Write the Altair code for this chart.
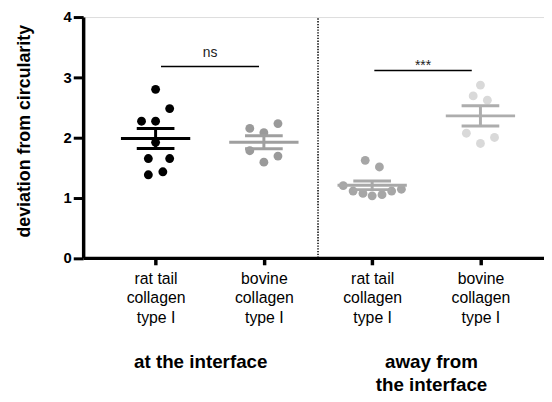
import json
import altair as alt
import pandas as pd

# ---------------- data ----------------
group_ids = [1, 2, 3, 4]
x_labels = [
    ["rat tail", "collagen", "type I"],
    ["bovine", "collagen", "type I"],
    ["rat tail", "collagen", "type I"],
    ["bovine", "collagen", "type I"],
]
g1_values = [2.80, 2.48, 2.27, 2.27, 1.92, 1.65, 1.65, 1.38, 1.43]
g1_jitter = [0.0, 0.13, -0.13, 0.0, 0.0, -0.067, 0.13, -0.067, 0.067]
g2_values = [2.15, 2.08, 2.23, 1.78, 1.69, 1.59]
g2_jitter = [-0.13, 0.0, 0.13, -0.13, 0.13, 0.0]
g3_values = [1.62, 1.51, 1.20, 1.11, 1.07, 1.03, 1.05, 1.11, 1.14]
g3_jitter = [-0.064, 0.067, -0.267, -0.176, -0.085, 0.0, 0.091, 0.18, 0.27]
g4_values = [2.87, 2.69, 2.62, 2.07, 2.00, 1.90]
g4_jitter = [0.0, -0.067, 0.064, -0.13, 0.13, 0.0]

point_colors = ["#000000", "#9a9a9a", "#a6a6a6", "#d9d9d9"]
line_colors = ["#000000", "#9f9f9f", "#a8a8a8", "#adadad"]

sig_x1 = [1.05, 3.02]
sig_x2 = [1.955, 3.92]
sig_y = [3.177, 3.112]
sig_labels = ["ns", "***"]

group_titles = ["at the interface", "away from\nthe interface"]
group_title_x = [1.417, 3.548]

separator_x = [2.5]

FONT = "Liberation Sans"

# ---------------- tables ----------------
rows = []
for gid, vals, jit in zip(group_ids,
                          [g1_values, g2_values, g3_values, g4_values],
                          [g1_jitter, g2_jitter, g3_jitter, g4_jitter]):
    for v, j in zip(vals, jit):
        rows.append({"group": gid, "g": f"g{gid}", "value": v, "jitter": j})
pts = pd.DataFrame(rows)

sig_df = pd.DataFrame({"x1": sig_x1, "x2": sig_x2, "y": sig_y, "label": sig_labels})
title_df = pd.DataFrame({"x": group_title_x, "label": group_titles})
sep_df = pd.DataFrame({"x": separator_x, "y1": [0], "y2": [4]})

label_expr = json.dumps(x_labels) + "[datum.value - 1]"

x_scale = alt.Scale(domain=[0.331, 4.587], nice=False, zero=False)
y_scale = alt.Scale(domain=[0, 4], nice=False, zero=False)

x_axis = alt.Axis(
    values=[1, 2, 3, 4], labelExpr=label_expr, title=None, grid=False,
    domainColor="black", domainWidth=3.5, tickColor="black", tickWidth=3.5,
    tickSize=7, labelFont=FONT, labelFontSize=16, labelColor="black",
    labelLineHeight=19.5, labelPadding=6, labelBaseline="top", labelAngle=0,
)
y_axis = alt.Axis(
    values=[0, 1, 2, 3, 4], grid=False, title="deviation from circularity",
    domainColor="black", domainWidth=3.5, tickColor="black", tickWidth=3,
    tickSize=10, labelFont=FONT, labelFontSize=15, labelFontWeight="bold",
    labelColor="black", labelPadding=2, titleFont=FONT, titleFontSize=18,
    titleFontWeight="bold", titleColor="black", titleX=-54, titleY=115,
    titleAngle=270, titleAlign="center", titleBaseline="alphabetic",
)


def X(field, **kw):
    return alt.X(field, type="quantitative", scale=x_scale, axis=x_axis, **kw)


def Y(field, **kw):
    return alt.Y(field, type="quantitative", scale=y_scale, axis=y_axis, **kw)


pcolor = alt.Color("g:N", scale=alt.Scale(domain=["g1", "g2", "g3", "g4"], range=point_colors), legend=None)
lcolor = alt.Color("g:N", scale=alt.Scale(domain=["g1", "g2", "g3", "g4"], range=line_colors), legend=None)

base = alt.Chart(pts)

points = base.transform_calculate(xj="datum.group + datum.jitter").mark_circle(
    size=80, opacity=1
).encode(x=X("xj"), y=Y("value"), fill=pcolor)

stats = base.transform_aggregate(
    mean="mean(value)", sem="stderr(value)", groupby=["group", "g"]
).transform_calculate(
    lo="datum.mean - datum.sem", hi="datum.mean + datum.sem",
    mx1="datum.group - 0.32", mx2="datum.group + 0.32",
    cx1="datum.group - 0.174", cx2="datum.group + 0.174",
)

mean_line = stats.mark_rule(strokeWidth=3).encode(x=X("mx1"), x2="mx2:Q", y=Y("mean"), color=lcolor)
cap_hi = stats.mark_rule(strokeWidth=3).encode(x=X("cx1"), x2="cx2:Q", y=Y("hi"), color=lcolor)
cap_lo = stats.mark_rule(strokeWidth=3).encode(x=X("cx1"), x2="cx2:Q", y=Y("lo"), color=lcolor)
vbar = stats.mark_rule(strokeWidth=3).encode(x=X("group"), y=Y("lo"), y2="hi:Q", color=lcolor)

sep = alt.Chart(sep_df).mark_rule(color="black", strokeWidth=1.5, strokeDash=[1.4, 1.4]).encode(
    x=X("x"), y=Y("y1"), y2="y2:Q"
)

sig_lines = alt.Chart(sig_df).mark_rule(color="black", strokeWidth=1.5).encode(
    x=X("x1"), x2="x2:Q", y=Y("y")
)
sig_ns = alt.Chart(sig_df).transform_filter("datum.label == 'ns'").transform_calculate(
    xm="(datum.x1 + datum.x2) / 2"
).mark_text(font=FONT, fontSize=14, color="#222222", baseline="alphabetic", dy=-10).encode(
    x=X("xm"), y=Y("y"), text="label:N"
)
sig_star = alt.Chart(sig_df).transform_filter("datum.label != 'ns'").transform_calculate(
    xm="(datum.x1 + datum.x2) / 2"
).mark_text(font=FONT, fontSize=14, color="#222222", baseline="alphabetic", dy=-1).encode(
    x=X("xm"), y=Y("y"), text="label:N"
)

titles = alt.Chart(title_df).mark_text(
    font=FONT, fontSize=19, fontWeight="bold", color="black", baseline="top",
    lineBreak="\n", lineHeight=23, align="center",
).encode(x=X("x"), y=alt.value(340), text="label:N")

chart = alt.layer(
    sep, sig_lines, sig_ns, sig_star, points, mean_line, cap_hi, cap_lo, vbar, titles
).properties(
    width=466, height=243.5,
    autosize=alt.AutoSizeParams(type="none"),
    padding={"left": 76, "top": 7, "right": 0, "bottom": 135.5},
).configure_view(stroke=None).configure(font=FONT)

chart.save("out.html", embed_options={"renderer": "svg", "actions": False})
